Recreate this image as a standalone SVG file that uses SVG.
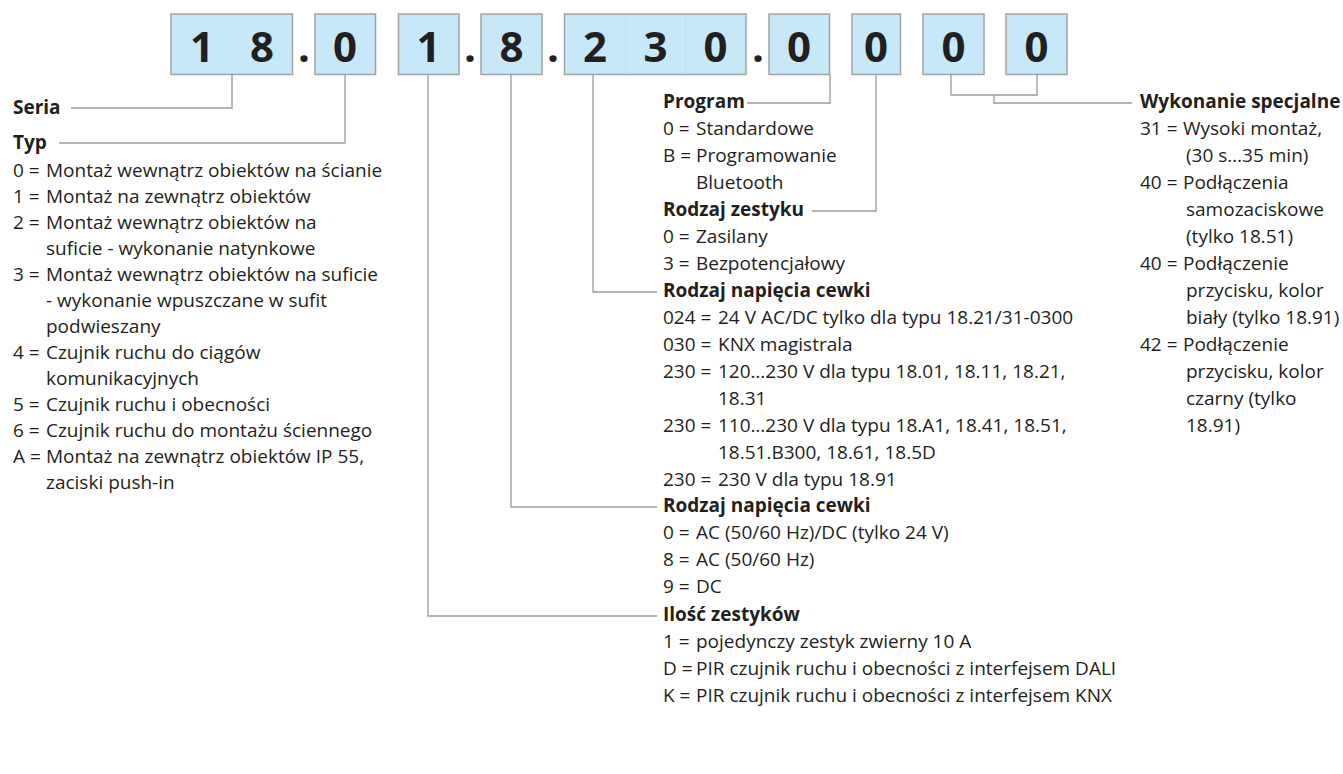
<svg xmlns="http://www.w3.org/2000/svg" width="1343" height="774" viewBox="0 0 1343 774">
<style>
.box{fill:#c7e8f8;stroke:#a3a3a3;stroke-width:1.5}
.div{stroke:#bedfee;stroke-width:1}
.dg{font-family:"Open Sans","Liberation Sans",sans-serif;font-weight:bold;font-size:42px;fill:#231f20;text-anchor:middle}
.t{font-family:"Open Sans","Liberation Sans",sans-serif;font-size:19px;fill:#231f20}
.b{font-weight:bold}
.ln{fill:none;stroke:#9a9a9a;stroke-width:1.3}
</style>
<rect width="1343" height="774" fill="#fff"/>
<g id="code">
<rect class="box" x="171" y="14" width="121.5" height="60.5"/>
<rect class="box" x="315" y="14" width="60.5" height="60.5"/>
<rect class="box" x="398.5" y="14" width="60.5" height="60.5"/>
<rect class="box" x="481" y="14" width="61" height="60.5"/>
<rect class="box" x="564.5" y="14" width="181.5" height="60.5"/>
<line class="div" x1="625.5" y1="15" x2="625.5" y2="73.5"/>
<line class="div" x1="685.5" y1="15" x2="685.5" y2="73.5"/>
<rect class="box" x="769" y="14" width="60.5" height="60.5"/>
<rect class="box" x="852" y="14" width="48.5" height="60.5"/>
<rect class="box" x="923" y="14" width="61" height="60.5"/>
<rect class="box" x="1006" y="14" width="61" height="60.5"/>
<text class="dg" x="202" y="62">1</text>
<text class="dg" x="262" y="62">8</text>
<text class="dg" x="304" y="62">.</text>
<text class="dg" x="345" y="62">0</text>
<text class="dg" x="428.5" y="62">1</text>
<text class="dg" x="470" y="62">.</text>
<text class="dg" x="511.5" y="62">8</text>
<text class="dg" x="553" y="62">.</text>
<text class="dg" x="595" y="62">2</text>
<text class="dg" x="655.5" y="62">3</text>
<text class="dg" x="715.5" y="62">0</text>
<text class="dg" x="758" y="62">.</text>
<text class="dg" x="799" y="62">0</text>
<text class="dg" x="876" y="62">0</text>
<text class="dg" x="953.5" y="62">0</text>
<text class="dg" x="1036.5" y="62">0</text>
</g>
<g id="connectors">
<polyline class="ln" points="232,74.5 232,108 71,108"/>
<polyline class="ln" points="345,74.5 345,143 59,143"/>
<polyline class="ln" points="428,74.5 428,616 657,616"/>
<polyline class="ln" points="511,74.5 511,507 657,507"/>
<polyline class="ln" points="593,74.5 593,292 657,292"/>
<polyline class="ln" points="830,74.5 830,103 747,103"/>
<polyline class="ln" points="876,74.5 876,211 812,211"/>
<polyline class="ln" points="951,74.5 951,95 1037,95 1037,74.5"/>
<polyline class="ln" points="994,95 994,103 1132,103"/>
</g>
<g id="seria"><text class="t b" x="13" y="114">Seria</text></g>
<g id="typ" class="t">
<text class="b" x="13" y="149">Typ</text>
<text x="13" y="177">0 =<tspan x="46">Montaż wewnątrz obiektów na ścianie</tspan></text>
<text x="13" y="203">1 =<tspan x="46">Montaż na zewnątrz obiektów</tspan></text>
<text x="13" y="229">2 =<tspan x="46">Montaż wewnątrz obiektów na</tspan></text>
<text x="46" y="255">suficie - wykonanie natynkowe</text>
<text x="13" y="281">3 =<tspan x="46">Montaż wewnątrz obiektów na suficie</tspan></text>
<text x="46" y="307">- wykonanie wpuszczane w sufit</text>
<text x="46" y="333">podwieszany</text>
<text x="13" y="359">4 =<tspan x="46">Czujnik ruchu do ciągów</tspan></text>
<text x="46" y="385">komunikacyjnych</text>
<text x="13" y="411">5 =<tspan x="46">Czujnik ruchu i obecności</tspan></text>
<text x="13" y="437">6 =<tspan x="46">Czujnik ruchu do montażu ściennego</tspan></text>
<text x="13" y="463">A =<tspan x="46">Montaż na zewnątrz obiektów IP 55,</tspan></text>
<text x="46" y="489">zaciski push-in</text>
</g>
<g id="program" class="t">
<text class="b" x="663" y="108">Program</text>
<text x="663" y="135">0 =<tspan x="696">Standardowe</tspan></text>
<text x="663" y="162">B =<tspan x="696">Programowanie</tspan></text>
<text x="696" y="189">Bluetooth</text>
</g>
<g id="rodzaj-zestyku" class="t">
<text class="b" x="663" y="216">Rodzaj zestyku</text>
<text x="663" y="243">0 =<tspan x="696">Zasilany</tspan></text>
<text x="663" y="270">3 =<tspan x="696">Bezpotencjałowy</tspan></text>
</g>
<g id="napiecie" class="t">
<text class="b" x="663" y="297">Rodzaj napięcia cewki</text>
<text x="663" y="324">024 =<tspan x="718">24 V AC/DC tylko dla typu 18.21/31-0300</tspan></text>
<text x="663" y="351">030 =<tspan x="718">KNX magistrala</tspan></text>
<text x="663" y="378">230 =<tspan x="718">120…230 V dla typu 18.01, 18.11, 18.21,</tspan></text>
<text x="718" y="405">18.31</text>
<text x="663" y="432">230 =<tspan x="718">110…230 V dla typu 18.A1, 18.41, 18.51,</tspan></text>
<text x="718" y="459">18.51.B300, 18.61, 18.5D</text>
<text x="663" y="486">230 =<tspan x="718">230 V dla typu 18.91</tspan></text>
</g>
<g id="napiecie2" class="t">
<text class="b" x="663" y="512">Rodzaj napięcia cewki</text>
<text x="663" y="539">0 =<tspan x="696">AC (50/60 Hz)/DC (tylko 24 V)</tspan></text>
<text x="663" y="566">8 =<tspan x="696">AC (50/60 Hz)</tspan></text>
<text x="663" y="593">9 =<tspan x="696">DC</tspan></text>
</g>
<g id="ilosc" class="t">
<text class="b" x="663" y="621">Ilość zestyków</text>
<text x="663" y="648">1 =<tspan x="696">pojedynczy zestyk zwierny 10 A</tspan></text>
<text x="663" y="675">D =<tspan x="696">PIR czujnik ruchu i obecności z interfejsem DALI</tspan></text>
<text x="663" y="702">K =<tspan x="696">PIR czujnik ruchu i obecności z interfejsem KNX</tspan></text>
</g>
<g id="wykonanie" class="t">
<text class="b" x="1140" y="108">Wykonanie specjalne</text>
<text x="1140" y="135">31 =<tspan x="1183">Wysoki montaż,</tspan></text>
<text x="1186" y="162">(30 s…35 min)</text>
<text x="1140" y="189">40 =<tspan x="1183">Podłączenia</tspan></text>
<text x="1186" y="216">samozaciskowe</text>
<text x="1186" y="243">(tylko 18.51)</text>
<text x="1140" y="270">40 =<tspan x="1183">Podłączenie</tspan></text>
<text x="1186" y="297">przycisku, kolor</text>
<text x="1186" y="324">biały (tylko 18.91)</text>
<text x="1140" y="351">42 =<tspan x="1183">Podłączenie</tspan></text>
<text x="1186" y="378">przycisku, kolor</text>
<text x="1186" y="405">czarny (tylko</text>
<text x="1186" y="432">18.91)</text>
</g>
</svg>
